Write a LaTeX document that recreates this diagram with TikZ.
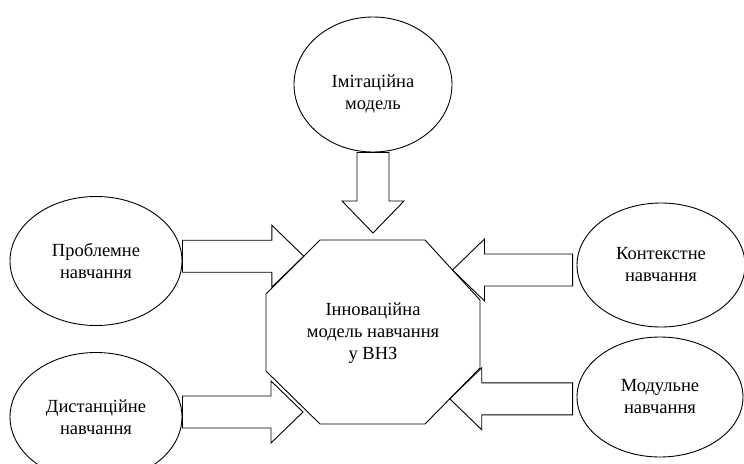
\documentclass[tikz,border=0pt]{standalone}
\usepackage{fontspec}
\setmainfont{Liberation Serif}
\usetikzlibrary{shapes.geometric,calc}

% thick hollow arrow from #1 (tail) to #2 (tip)
\newcommand{\fatarrow}[2]{%
  \coordinate (hb) at ($(#2)!32pt!(#1)$);
  \draw[fat] ($(#1)!16pt!90:(#2)$) -- ($(hb)!16pt!90:(#2)$) -- ($(hb)!31pt!90:(#2)$) -- (#2)
    -- ($(hb)!31pt!-90:(#2)$) -- ($(hb)!16pt!-90:(#2)$) -- ($(#1)!16pt!-90:(#2)$) -- cycle;
}

\begin{document}
\begin{tikzpicture}[x=1pt,y=-1pt,line width=0.9pt,
  every node/.style={font=\fontsize{18.5}{22}\selectfont},
  bubble/.style={ellipse,draw,align=center,inner sep=0pt},
  fat/.style={draw,line join=miter}]
\useasboundingbox (0,0) rectangle (744,463);
\clip (0,0) rectangle (744,463);

% octagon in the middle
\coordinate (c1) at (320,240);
\coordinate (c2) at (425,240);
\coordinate (c3) at (480,300);
\coordinate (c4) at (480,368);
\coordinate (c5) at (425,424);
\coordinate (c6) at (320,424);
\coordinate (c7) at (266,371);
\coordinate (c8) at (266,294);
\draw (c1) -- (c2) -- (c3) -- (c4) -- (c5) -- (c6) -- (c7) -- (c8) -- cycle;
\node[align=center] (inno) at (373,333) {Інноваційна\\модель навчання\\у ВНЗ};

% outer ideas
\node[bubble,minimum width=158,minimum height=135] (imit) at (373,84.5) {};
\node[align=center] (imittext) at ([yshift=-9pt]imit.center) {Імітаційна\\модель};
\node[bubble,minimum width=172,minimum height=129] (prob) at (96,261) {Проблемне\\навчання};
\node[bubble,minimum width=172,minimum height=129] (dist) at (96,417) {Дистанційне\\навчання};
\node[bubble,minimum width=168,minimum height=124] (cont) at (661,265) {Контекстне\\навчання};
\node[bubble,minimum width=166,minimum height=120] (modu) at (660,397) {Модульне\\навчання};

% arrow tips
\coordinate (itip) at (373,233);
\coordinate (ptip) at ($(c8)!0.7!(c1)$);
\coordinate (dtip) at (303,412);
\coordinate (ctip) at ($(c2)!0.5!(c3)$);
\coordinate (mtip) at ($(c4)!0.55!(c5)$);

\fatarrow{imit.south}{itip}
\fatarrow{prob.east |- ptip}{ptip}
\fatarrow{dist.east |- dtip}{dtip}
\fatarrow{[xshift=-4pt]cont.west |- ctip}{ctip}
\fatarrow{[xshift=-4pt]modu.west |- mtip}{mtip}
\end{tikzpicture}
\end{document}
